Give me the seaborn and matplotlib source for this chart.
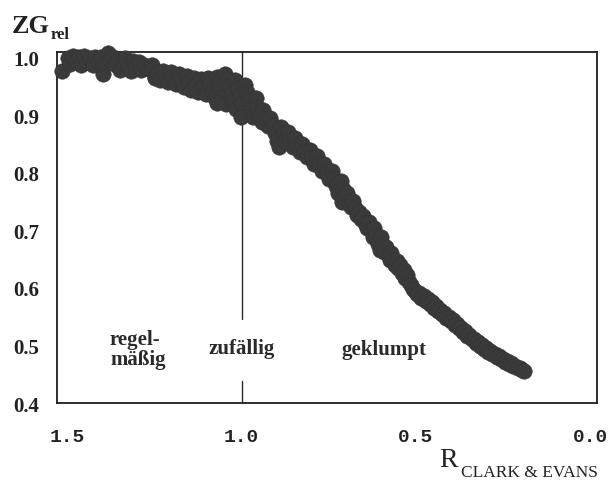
import matplotlib
matplotlib.use("Agg")
import matplotlib.pyplot as plt
import seaborn as sns
import pandas as pd

# Aggregation index after Clark & Evans (R) and relative basal area (ZG_rel)
r_clark_evans = [
    1.516, 1.497, 1.492, 1.484, 1.476, 1.468, 1.460, 1.452, 1.444, 1.436,
    1.428, 1.420, 1.412, 1.404, 1.399, 1.392, 1.384, 1.378, 1.370, 1.362,
    1.355, 1.348, 1.341, 1.334, 1.326, 1.318, 1.312, 1.304, 1.296, 1.288,
    1.280, 1.272, 1.264, 1.258, 1.250,
    1.255, 1.249, 1.241, 1.234, 1.226, 1.219, 1.211, 1.204, 1.196, 1.189,
    1.181, 1.173, 1.166, 1.158, 1.151, 1.145, 1.138, 1.131, 1.124, 1.117,
    1.110, 1.103, 1.097, 1.090, 1.083, 1.077, 1.070, 1.064, 1.058, 1.052,
    1.046, 1.049, 1.041, 1.035, 1.029, 1.023, 1.016, 1.018, 1.011, 1.005,
    0.999, 0.994, 1.001, 0.991, 0.984, 0.978, 0.971, 0.966, 1.070,
    0.960, 0.955, 0.949, 0.943, 0.938, 0.931, 0.924, 0.918, 0.911, 0.904,
    0.898, 0.892, 0.888, 0.881, 0.875, 0.868, 0.861, 0.854, 0.847, 0.840,
    0.833, 0.826, 0.819, 0.812, 0.805, 0.798, 0.791, 0.784, 0.777, 0.770,
    0.763, 0.756, 0.749, 0.742, 0.735, 0.728, 0.722, 0.716, 0.712, 0.710,
    0.704,
    0.698, 0.693, 0.687, 0.681, 0.675, 0.669, 0.663, 0.657, 0.651, 0.645,
    0.640, 0.635, 0.629, 0.624, 0.619, 0.614, 0.609, 0.604, 0.600, 0.595,
    0.590, 0.585, 0.580, 0.575, 0.570, 0.565, 0.560, 0.555, 0.550, 0.545,
    0.540, 0.535, 0.530, 0.524, 0.519, 0.513, 0.508,
    0.502, 0.496, 0.490, 0.484, 0.478, 0.472, 0.466, 0.460, 0.454, 0.448,
    0.442, 0.436, 0.430, 0.424, 0.418, 0.412, 0.406, 0.400, 0.394, 0.388,
    0.382, 0.376, 0.370, 0.364, 0.358, 0.352, 0.346, 0.340, 0.334, 0.328,
    0.322, 0.316, 0.310, 0.304, 0.298, 0.292, 0.286, 0.280, 0.274, 0.268,
    0.262, 0.256, 0.250, 0.244, 0.238, 0.232, 0.226, 0.220, 0.214, 0.208,
    0.202, 0.196, 0.190,
]
zg_rel = [
    0.977, 1.000, 0.989, 1.004, 0.994, 1.001, 0.988, 1.003, 0.993, 1.000,
    0.987, 1.002, 0.994, 1.001, 0.972, 0.990, 1.008, 0.996, 1.002, 0.987,
    0.997, 0.979, 0.992, 1.000, 0.985, 0.978, 0.994, 0.986, 0.993, 0.979,
    0.988, 0.982, 0.981, 0.987, 0.967,
    0.979, 0.966, 0.975, 0.962, 0.977, 0.968, 0.959, 0.976, 0.966, 0.955,
    0.972, 0.962, 0.950, 0.968, 0.957, 0.944, 0.965, 0.953, 0.940, 0.964,
    0.951, 0.937, 0.966, 0.955, 0.943, 0.930, 0.967, 0.957, 0.946, 0.933,
    0.920, 0.973, 0.963, 0.951, 0.938, 0.925, 0.912, 0.961, 0.948, 0.935,
    0.921, 0.905, 0.898, 0.953, 0.940, 0.927, 0.913, 0.898, 0.922,
    0.930, 0.914, 0.899, 0.888, 0.910, 0.896, 0.882, 0.896, 0.884, 0.870,
    0.856, 0.845, 0.880, 0.867, 0.855, 0.871, 0.858, 0.846, 0.860, 0.847,
    0.836, 0.851, 0.838, 0.827, 0.840, 0.828, 0.816, 0.829, 0.816, 0.803,
    0.815, 0.802, 0.790, 0.803, 0.790, 0.777, 0.765, 0.786, 0.750, 0.772,
    0.758,
    0.765, 0.752, 0.740, 0.752, 0.739, 0.727, 0.733, 0.720, 0.726, 0.713,
    0.705, 0.715, 0.700, 0.688, 0.704, 0.690, 0.677, 0.666, 0.688, 0.675,
    0.662, 0.672, 0.659, 0.648, 0.660, 0.648, 0.640, 0.647, 0.634, 0.640,
    0.626, 0.631, 0.618, 0.622, 0.610, 0.606, 0.598,
    0.594, 0.589, 0.591, 0.583, 0.586, 0.578, 0.580, 0.572, 0.575, 0.566,
    0.568, 0.560, 0.562, 0.554, 0.556, 0.548, 0.550, 0.542, 0.544, 0.536,
    0.538, 0.530, 0.531, 0.523, 0.525, 0.517, 0.518, 0.511, 0.512, 0.505,
    0.506, 0.499, 0.500, 0.494, 0.495, 0.489, 0.490, 0.485, 0.486, 0.480,
    0.481, 0.476, 0.477, 0.472, 0.473, 0.468, 0.469, 0.464, 0.465, 0.461,
    0.461, 0.458, 0.456,
]

x_ticks = [1.5, 1.0, 0.5, 0.0]
x_tick_labels = ["1.5", "1.0", "0.5", "0.0"]
y_ticks = [0.4, 0.5, 0.6, 0.7, 0.8, 0.9, 1.0]
y_tick_labels = ["0.4", "0.5", "0.6", "0.7", "0.8", "0.9", "1.0"]
zone_labels = ["regel-\nmäßig", "zufällig", "geklumpt"]

df = pd.DataFrame({"R": r_clark_evans, "ZG": zg_rel})

sns.set_theme(style="white")
plt.rcParams["font.family"] = ["Liberation Serif", "DejaVu Serif"]

W, H = 609, 481
fig = plt.figure(figsize=(W / 100, H / 100), dpi=100)
ax = fig.add_axes([57 / W, 1 - 404 / H, 540 / W, 351 / H])

sns.scatterplot(
    data=df, x="R", y="ZG", ax=ax, s=125, color="#3a3a3a",
    edgecolor="#333333", linewidth=0.3, clip_on=False, zorder=4,
    legend=False,
)

ax.set_xlim(1.53, -0.02)
ax.set_ylim(0.4, 1.0104)
ax.set_xlabel("")
ax.set_ylabel("")

ax.set_xticks(x_ticks)
ax.set_xticklabels(x_tick_labels, fontfamily="Liberation Mono",
                   fontweight="bold", fontsize=14, color="#222222")
ax.set_yticks(y_ticks)
ax.set_yticklabels(y_tick_labels, fontweight="bold", fontsize=15,
                   color="#222222")
ax.tick_params(axis="x", which="major", length=0, pad=18)
ax.tick_params(axis="y", which="major", length=0, pad=13)
ax.set_xticks([1.0, 0.5], minor=True)
ax.tick_params(axis="x", which="minor", direction="in", length=7,
               width=1.0, color="#222222", top=True, bottom=True)

for sp in ax.spines.values():
    sp.set_linewidth(1.3)
    sp.set_color("#1e1e1e")

# boundary between regular and random patterns, interrupted by its label
ax.axvline(1.0, ymin=0.0, ymax=0.063, color="#2a2a2a", lw=1.0, zorder=2)
ax.axvline(1.0, ymin=0.239, ymax=1.0, color="#2a2a2a", lw=1.0, zorder=2)

zone_style = dict(fontsize=15, fontweight="bold", color="#2a2a2a")
ax.text(1.378, 0.494, zone_labels[0], ha="left", va="center",
        linespacing=0.95, **zone_style)
ax.text(1.0, 0.495, zone_labels[1], ha="center", va="center", **zone_style)
ax.text(0.591, 0.494, zone_labels[2], ha="center", va="center", **zone_style)

# axis titles with subscripts
fig.text(12 / W, 1 - 33 / H, "ZG", fontsize=19, fontweight="bold",
         ha="left", va="baseline", color="#222222")
fig.text(51 / W, 1 - 39 / H, "rel", fontsize=12, fontweight="bold",
         ha="left", va="baseline", color="#222222")
fig.text(439 / W, 1 - 467 / H, "R", fontsize=20,
         ha="left", va="baseline", color="#222222")
fig.text(461 / W, 1 - 477 / H, "CLARK & EVANS", fontsize=12.5,
         ha="left", va="baseline", color="#222222")

fig.savefig("out.png", dpi=100, facecolor="white")
